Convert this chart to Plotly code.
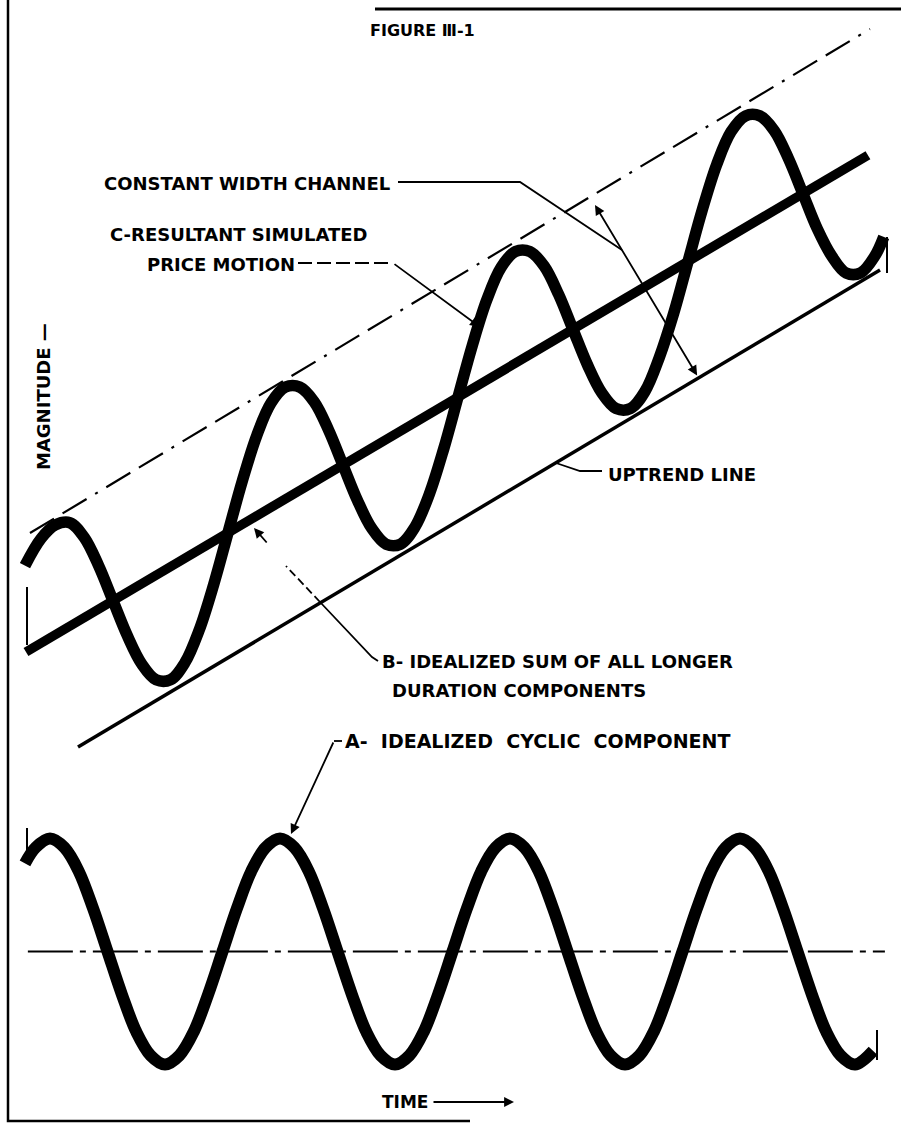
import plotly.graph_objects as go

W, H = 901, 1124

# ---------------- data (time in arbitrary units, one cycle = 8 units) ----------------
# A - idealized cyclic component (lower panel)
cycle_time = [-0.87, -0.5, 0, 0.5, 1, 1.5, 2, 2.5, 3, 3.5, 4, 4.5, 5, 5.5, 6, 6.5, 7, 7.5,
              8, 8.5, 9, 9.5, 10, 10.5, 11, 11.5, 12, 12.5, 13, 13.5, 14, 14.5, 15, 15.5,
              16, 16.5, 17, 17.5, 18, 18.5, 19, 19.5, 20, 20.5, 21, 21.5, 22, 22.5, 23, 23.5,
              24, 24.5, 25, 25.5, 26, 26.5, 27, 27.5, 28, 28.63]
cycle_value = [0.78, 0.92,
               1.00, 0.92, 0.71, 0.38, 0.00, -0.38, -0.71, -0.92,
               -1.00, -0.92, -0.71, -0.38, 0.00, 0.38, 0.71, 0.92,
               1.00, 0.92, 0.71, 0.38, 0.00, -0.38, -0.71, -0.92,
               -1.00, -0.92, -0.71, -0.38, 0.00, 0.38, 0.71, 0.92,
               1.00, 0.92, 0.71, 0.38, 0.00, -0.38, -0.71, -0.92,
               -1.00, -0.92, -0.71, -0.38, 0.00, 0.38, 0.71, 0.92,
               1.00, 0.92, 0.71, 0.38, 0.00, -0.38, -0.71, -0.92,
               -1.00, -0.88]
cycle_axis_time = [-0.77, 29.04]
cycle_axis_value = [0.0, 0.0]

# C - resultant simulated price motion (upper panel)
price_time = [-0.87, -0.31, 0.19, 0.69, 1.19, 1.69, 2.19, 2.69, 3.19, 3.69, 4.19, 4.69,
              5.19, 5.69, 6.19, 6.69, 7.19, 7.69, 8.19, 8.69, 9.19, 9.69, 10.19, 10.69,
              11.19, 11.69, 12.19, 12.69, 13.19, 13.69, 14.19, 14.69, 15.19, 15.69, 16.19,
              16.69, 17.19, 17.69, 18.19, 18.69, 19.19, 19.69, 20.19, 20.69, 21.19, 21.69,
              22.19, 22.69, 23.19, 23.69, 24.19, 24.69, 25.19, 25.69, 26.19, 26.69, 27.19,
              27.69, 28.19, 28.69, 29.0]
price_value = [1.72, 1.96,
               2.08, 2.10, 1.97, 1.72, 1.41, 1.10, 0.85, 0.71,
               0.71, 0.86, 1.15, 1.55, 2.01, 2.47, 2.87, 3.16,
               3.30, 3.30, 3.17, 2.92, 2.61, 2.30, 2.05, 1.91,
               1.91, 2.06, 2.35, 2.75, 3.21, 3.67, 4.07, 4.36,
               4.50, 4.50, 4.37, 4.12, 3.81, 3.50, 3.25, 3.11,
               3.11, 3.26, 3.56, 3.95, 4.41, 4.87, 5.27, 5.56,
               5.70, 5.70, 5.57, 5.32, 5.01, 4.70, 4.46, 4.31,
               4.31, 4.46, 4.63]

# B - idealized sum of all longer duration components (trend)
trend_time = [-0.835, 28.45]
trend_value = [0.956, 5.352]

# Uptrend line (lower channel bound) and upper channel bound
uptrend_time = [0.974, 28.87]
uptrend_value = [0.115, 4.336]
channel_time = [-0.696, 28.52]
channel_value = [2.009, 6.469]

# ---------------- figure ----------------
fig = go.Figure()

fig.add_trace(go.Scatter(x=channel_time, y=channel_value, mode="lines", yaxis="y",
                         line=dict(color="black", width=2.2,
                                   dash="28px,10px,28px,10px,3px,10px")))
fig.add_trace(go.Scatter(x=uptrend_time, y=uptrend_value, mode="lines", yaxis="y",
                         line=dict(color="black", width=3.5)))
fig.add_trace(go.Scatter(x=trend_time, y=trend_value, mode="lines", yaxis="y",
                         line=dict(color="black", width=9.5)))
fig.add_trace(go.Scatter(x=price_time, y=price_value, mode="lines", yaxis="y",
                         line=dict(color="black", width=11.5, shape="spline", smoothing=1.0)))
fig.add_trace(go.Scatter(x=cycle_axis_time, y=cycle_axis_value, mode="lines", yaxis="y2",
                         line=dict(color="black", width=2, dash="45px,7px,6px,7px")))
fig.add_trace(go.Scatter(x=cycle_time, y=cycle_value, mode="lines", yaxis="y2",
                         line=dict(color="black", width=12, shape="spline", smoothing=1.0)))


def P(x, y):
    return x / W, 1 - y / H


FONT = dict(family="DejaVu Sans", size=18, color="black")
annotations = []


def label(text, x, y, size=18, angle=0, anchor="left"):
    px, py = P(x, y)
    annotations.append(dict(x=px, y=py, xref="paper", yref="paper", text="<b>%s</b>" % text,
                            showarrow=False, xanchor=anchor, yanchor="middle",
                            textangle=angle, font=dict(FONT, size=size)))


def arrow(hx, hy, tx, ty, both=False, width=1.8):
    px, py = P(hx, hy)
    d = dict(x=px, y=py, xref="paper", yref="paper", text="", showarrow=True,
             ax=tx - hx, ay=ty - hy, arrowhead=2, arrowsize=1.1, arrowwidth=width,
             arrowcolor="black", standoff=0)
    if both:
        d.update(arrowside="end+start", startarrowhead=2, startarrowsize=1.1, startstandoff=0)
    annotations.append(d)


shapes = []


def poly(points, width=1.8, dash="solid"):
    path = ""
    for i, (x, y) in enumerate(points):
        px, py = P(x, y)
        path += ("M" if i == 0 else " L") + " %.5f,%.5f" % (px, py)
    shapes.append(dict(type="path", path=path, xref="paper", yref="paper",
                       line=dict(color="black", width=width, dash=dash)))


# frame
poly([(8, 0), (8, 1121), (470, 1121)], width=2.5)
poly([(375, 9), (901, 9)], width=3)

# small end ticks of the original drawing
poly([(27, 587), (27, 645)], width=2)
poly([(27, 828), (27, 860)], width=2)
poly([(887, 237), (887, 273)], width=2)
poly([(877, 1030), (877, 1060)], width=2)

NB = "\u00a0"
# labels
label("FIGURE Ⅲ-1", 368, 31, size=16)
label("CONSTANT WIDTH CHANNEL", 102, 183)
label("C-RESULTANT SIMULATED", 108, 235)
label("PRICE MOTION", 145, 264)
label("MAGNITUDE —", 43, 397, angle=-90, anchor="center")
label("UPTREND LINE", 606, 474)
label("B- IDEALIZED SUM OF ALL LONGER", 380, 661)
label("DURATION COMPONENTS", 390, 690)
label("A-" + NB + " IDEALIZED" + NB + " CYCLIC" + NB + " COMPONENT", 343, 741, size=19)
label("TIME", 380, 1102, size=17)

# leaders
poly([(398, 182), (520, 182), (622, 250)])
arrow(595, 205, 698, 377, both=True)

poly([(298, 263), (393, 263)], dash="14px,5px")
arrow(480, 327, 393, 263)

poly([(378, 661), (372, 657), (320, 602)])
poly([(320, 602), (286, 566)], dash="8px,4px")
arrow(254, 528, 268, 544)

poly([(556, 463), (580, 471), (602, 471)])

poly([(342, 741), (334, 741)])
arrow(291, 834, 334, 741)

arrow(514, 1102, 432, 1102)

fig.update_layout(
    width=W, height=H,
    margin=dict(l=0, r=0, t=0, b=0),
    paper_bgcolor="white", plot_bgcolor="white",
    showlegend=False,
    hovermode=False,
    xaxis=dict(range=[(0 - 50) / 28.75, (W - 50) / 28.75], visible=False, domain=[0, 1]),
    yaxis=dict(range=[(760 - H) / 113, 760 / 113], visible=False, domain=[0, 1]),
    yaxis2=dict(range=[(951.5 - H) / 113, 951.5 / 113], visible=False, overlaying="y"),
    annotations=annotations,
    shapes=shapes,
)

fig.write_html("out.html",
               config={"displayModeBar": False, "staticPlot": True},
               post_script="document.body.style.margin='0';document.body.style.overflow='hidden';")
